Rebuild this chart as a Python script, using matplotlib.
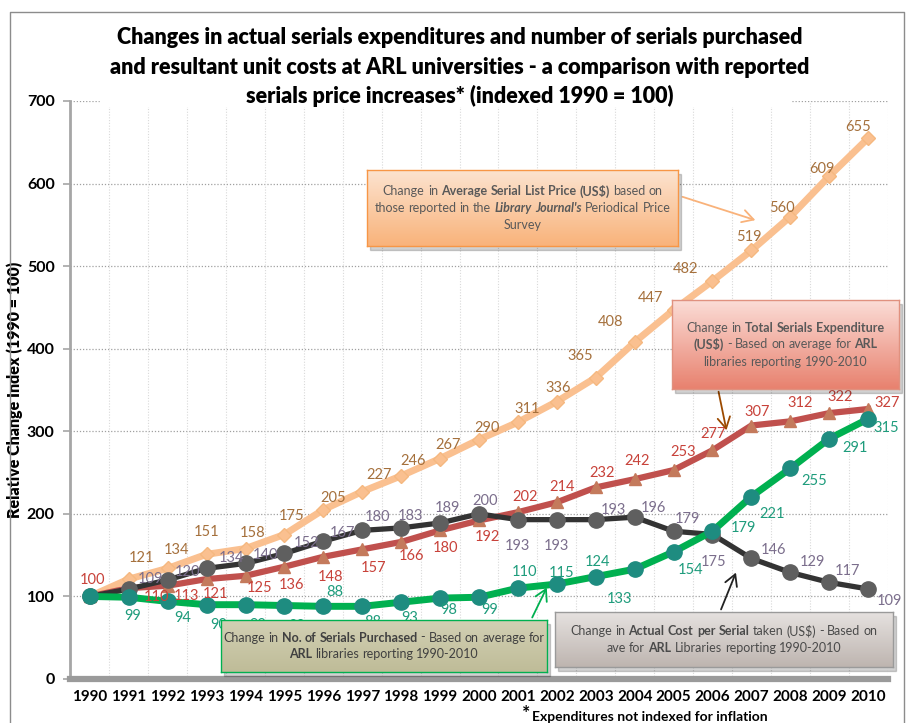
# ARL serials chart - indexed 1990 = 100
import numpy as np
import matplotlib
matplotlib.use("Agg")
import matplotlib.pyplot as plt
from matplotlib.colors import LinearSegmentedColormap
from matplotlib.patches import Rectangle
from matplotlib.transforms import IdentityTransform

plt.rcParams['font.family'] = ['Lato', 'DejaVu Sans']

# data
years = list(range(1990, 2011))
list_price = [100, 121, 134, 151, 158, 175, 205, 227, 246, 267, 290, 311, 336, 365, 408, 447, 482, 519, 560, 609, 655]
total_exp = [100, 110, 113, 121, 125, 136, 148, 157, 166, 180, 192, 202, 214, 232, 242, 253, 277, 307, 312, 322, 327]
cost_per_serial = [100, 109, 120, 134, 140, 152, 167, 180, 183, 189, 200, 193, 193, 193, 196, 179, 175, 146, 129, 117, 109]
no_serials = [100, 99, 94, 90, 90, 89, 88, 88, 93, 98, 99, 110, 115, 124, 133, 154, 179, 221, 255, 291, 315]

# label offsets in pixels (dx right, dy down), None = no label
off_price = [None, (13, -21), (9, -18), (0, -22), (7, -16), (7, -18), (10, -12), (17, -17), (12, -15), (8, -14),
             (8, -12), (9, -13), (1, -14), (-16, -22), (-24, -20), (-23, -12), (-27, -12), (-3, -13), (-8, -9), (-7, -7), (-10, -11)]
off_exp = [(3, -16), (28, 9), (19, 10), (9, 15), (14, 12), (7, 18), (7, 20), (11, 19), (10, 14), (5, 18),
           (8, 17), (7, -15), (5, -15), (6, -14), (2, -18), (10, -18), (1, -16), (6, -14), (10, -18), (11, -16), (19, -6)]
off_cost = [None, (22, -10), (20, -8), (25, -10), (20, -8), (22, -10), (19, -8), (15, -13), (9, -12), (7, -15),
            (6, -13), (0, 26), (0, 26), (18, -10), (19, -9), (14, -12), (1, 27), (22, -8), (22, -10), (18, -11), (21, 12)]
off_no = [None, (4, 19), (15, 17), (12, 20), (12, 20), (12, 20), (11, -14), (10, 16), (9, 16), (9, 12),
          (11, 13), (7, -16), (5, -11), (2, -15), (-15, 30), (17, 18), (31, -3), (21, 17), (24, 13), (26, 9), (18, 9)]

W, H = 908, 723
fig = plt.figure(figsize=(W / 100, H / 100), dpi=100)
ax = fig.add_axes([70 / W, 1 - 679 / H, 818 / W, 578 / H])

# series
ax.plot(years, list_price, color='#FAC090', lw=5, marker='D', ms=7, mfc='#FAC090', mec='#F5B880', zorder=2)
ax.plot(years, total_exp, color='#C0504D', lw=4.5, marker='^', ms=9, mfc='#C47A5C', mec='#C47A5C', zorder=3)
ax.plot(years, cost_per_serial, color='#333333', lw=3.8, marker='o', ms=11, mfc='#5F5F5F', mec='#5F5F5F', zorder=4)
ax.plot(years, no_serials, color='#00B050', lw=5, marker='o', ms=11, mfc='#1E8C80', mec='#1E8C80', zorder=5)


def labels(vals, offs, color):
    for x, v, o in zip(years, vals, offs):
        if o is None:
            continue
        ax.annotate(str(v), (x, v), xytext=(o[0] * 0.72, -o[1] * 0.72), textcoords='offset points',
                    ha='center', va='center', fontsize=10.5, color=color, zorder=6)


labels(list_price, off_price, '#A5703C')
labels(total_exp, off_exp, '#C8423A')
labels(cost_per_serial, off_cost, '#7B6E8C')
labels(no_serials, off_no, '#1E9C7C')

# axes
ax.set_xlim(1989.49, 2010.51)
ax.set_ylim(0, 700)
ax.set_xticks(years)
ax.set_xticklabels([str(y) for y in years], fontsize=11, fontweight='bold')
ax.set_yticks(range(0, 701, 100))
ax.set_yticklabels([str(t) for t in range(0, 701, 100)], fontsize=11.5, fontweight='bold')
ax.tick_params(axis='x', length=0, pad=8)
ax.tick_params(axis='y', length=5, color='#A6A6A6', width=1.2, pad=6)
for y in range(100, 701, 100):
    ax.axhline(y, color='#A0A0A0', lw=0.9, ls=(0, (1, 1.5)), zorder=0)
for x in np.arange(1990.5, 2010.6, 1):
    ax.axvline(x, color='#D9D9D9', lw=0.8, ls=(0, (1, 1.5)), zorder=0)
for s in ['top', 'right']:
    ax.spines[s].set_visible(False)
ax.spines['left'].set_color('#A6A6A6')
ax.spines['left'].set_linewidth(2)
ax.spines['bottom'].set_color('#9A9A9A')
ax.spines['bottom'].set_linewidth(4.5)
ax.set_ylabel('Relative Change Index (1990 = 100)', fontsize=11.5, fontweight='heavy', labelpad=4)
ax.yaxis.set_label_coords(-0.058, 0.5)

# title
fig.patches.append(Rectangle((100, H - 106), 690, 10, transform=IdentityTransform(), color='white', zorder=1))
for i, t in enumerate(['Changes in actual serials expenditures and number of serials purchased',
                       'and resultant unit costs at ARL universities - a comparison with reported',
                       'serials price increases* (indexed 1990 = 100)']):
    fig.text(460 / W, 1 - (38 + 29 * i) / H, t, ha='center', va='center', fontsize=15.5, fontweight='heavy', zorder=3)

# footnote
fig.text(526 / W, 1 - 713 / H, '*', fontsize=14, fontweight='bold', ha='center', va='center')
fig.text(532 / W, 1 - 717 / H, 'Expenditures not indexed for inflation', fontsize=10, fontweight='bold', ha='left', va='center')

# outer frame
fig.lines.append(plt.Line2D([10, 10, 904, 904], [0, H - 12, H - 12, 0], transform=IdentityTransform(), color='#8C8C8C', lw=1))

renderer = fig.canvas.get_renderer()


def rich(cx, cy, lines, size, color, gap=17):
    # draw centred lines made of (text, weight, style) pieces, in image pixels
    tt = fig.text(0, 0, 'a a', fontsize=size, transform=IdentityTransform())
    t2 = fig.text(0, 0, 'aa', fontsize=size, transform=IdentityTransform())
    sp = tt.get_window_extent(renderer).width - t2.get_window_extent(renderer).width
    tt.remove()
    t2.remove()
    n = len(lines)
    for li, line in enumerate(lines):
        y = H - (cy + (li - (n - 1) / 2) * gap)
        objs = []
        for txt, wt, st in line:
            for w in txt.split():
                t = fig.text(0, y, w, fontsize=size, fontweight=wt, fontstyle=st, color=color,
                             va='center', ha='left', transform=IdentityTransform(), zorder=4)
                objs.append(t)
        widths = [o.get_window_extent(renderer).width for o in objs]
        total = sum(widths) + sp * (len(objs) - 1)
        x = cx - total / 2
        for o, w in zip(objs, widths):
            o.set_x(x)
            x += w + sp


def note_box(x0, y0, x1, y1, c_top, c_bot, edge, lines, color='#595959'):
    sh = Rectangle((x0 + 3, H - y1 - 4), x1 - x0, y1 - y0, transform=IdentityTransform(),
                   color='#000000', alpha=0.18, zorder=1.5)
    fig.patches.append(sh)
    bax = fig.add_axes([x0 / W, 1 - y1 / H, (x1 - x0) / W, (y1 - y0) / H], zorder=2)
    cmap = LinearSegmentedColormap.from_list('g', [c_top, c_bot])
    bax.imshow(np.linspace(0, 1, 64)[:, None], aspect='auto', cmap=cmap, extent=[0, 1, 0, 1])
    bax.set_xticks([])
    bax.set_yticks([])
    for s in bax.spines.values():
        s.set_color(edge)
        s.set_linewidth(1)
    rich((x0 + x1) / 2, (y0 + y1) / 2, lines, 9, color)


N, B, I = 'normal', 'bold', 'italic'
note_box(367, 170, 678, 246, '#FCE3CF', '#F9B37B', '#F79646',
         [[('Change in', N, N), ('Average Serial List Price (US$)', B, N), ('based on', N, N)],
          [('those reported in the', N, N), ("Library Journal's", B, I), ('Periodical Price', N, N)],
          [('Survey', N, N)]])
note_box(672, 300, 899, 389, '#FBDCD6', '#E8826F', '#E0917F',
         [[('Change in', N, N), ('Total Serials Expenditure', B, N)],
          [('(US$)', B, N), ('- Based on average for', N, N), ('ARL', B, N)],
          [('libraries reporting 1990-2010', N, N)]])
note_box(221, 620, 547, 672, '#D2D0B4', '#BFBC98', '#00B050',
         [[('Change in', N, N), ('No. of Serials Purchased', B, N), ('- Based on average for', N, N)],
          [('ARL', B, N), ('libraries reporting 1990-2010', N, N)]], color='#404040')
note_box(555, 612, 893, 667, '#E6E2E0', '#BEB5B0', '#9A9A9A',
         [[('Change in', N, N), ('Actual  Cost per Serial', B, N), ('taken (US$)', N, N), ('- Based on', N, N)],
          [('ave for', N, N), ('ARL', B, N), ('Libraries reporting 1990-2010', N, N)]], color='#4A4A4A')

# arrows from boxes
arrows = [((680, 196), (758, 221), '#F9B27A'),
          ((718, 389), (727, 433), '#9C4A00'),
          ((531, 620), (548, 585), '#00B050'),
          ((720, 612), (737, 570), '#222222')]
for (sx, sy), (ex, ey), c in arrows:
    ax.annotate('', xy=(ex, H - ey), xycoords='figure pixels', xytext=(sx, H - sy), textcoords='figure pixels',
                arrowprops=dict(arrowstyle='->,head_length=0.8,head_width=0.45', color=c, lw=1.3), zorder=7)

fig.savefig('out.png', dpi=100)
